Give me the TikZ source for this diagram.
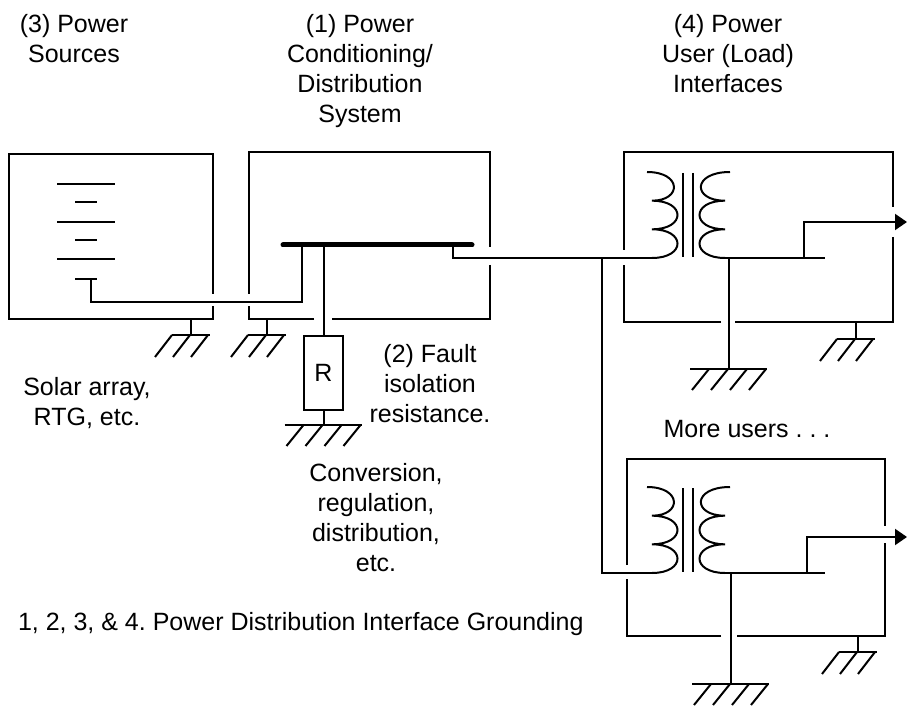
\documentclass[tikz,border=0pt]{standalone}
\usepackage{fontspec}
\setmainfont{Liberation Sans}
\usetikzlibrary{arrows.meta}
\frenchspacing
\begin{document}
\begin{tikzpicture}[x=1pt,y=-1pt,line width=2pt,
  bus/.style={line width=5pt,line cap=round},
  lbl/.style={align=center,inner sep=0pt,anchor=north,font=\fontsize{25}{30}\selectfont},
  resbox/.style={draw,line width=2pt,minimum width=39pt,minimum height=74pt,inner sep=0pt,font=\fontsize{25}{30}\selectfont},
  outarrow/.style={-{Triangle[length=12pt,width=16pt]}},
  gndthree/.pic={\draw (-19,0)--(19,0); \foreach \t in {-19,-1,17} \draw (\t,0)--(\t-17,22);},
  gndfour/.pic={\draw (-39,0)--(38,0); \foreach \t in {-20,-1,18,37} \draw (\t,0)--(\t-17,21);},
  xfmr/.pic={
    \draw (-5,-86) .. controls (30,-86) and (30,-57.3) .. (0,-57.3)
          .. controls (34,-57.3) and (34,-28.7) .. (0,-28.7)
          .. controls (34,-28.7) and (34,0) .. (0,0);
    \draw (31,-85)--(31,-1) (41,-85)--(41,-1);
    \draw (78,-86) .. controls (40,-86) and (40,-57.3) .. (73,-57.3)
          .. controls (39,-57.3) and (39,-28.7) .. (73,-28.7)
          .. controls (39,-28.7) and (39,0) .. (73,0);
  }]
\useasboundingbox (0,0) rectangle (908,708);

% ---------- (3) power source box ----------
\draw (213,294)--(213,154)--(9,154)--(9,319)--(213,319)--(213,306);
\foreach \y in {184,222,259} \draw (57,\y)--(115,\y);
\foreach \y in {202,240,279} \draw (75,\y)--(97,\y);
\draw (191,319)--(191,335);
\pic at (191,335) {gndthree};

% ---------- (1) conditioning / distribution box ----------
\draw (249,294)--(249,152)--(490,152)--(490,247);
\draw (490,265)--(490,319)--(332,319);
\draw (314,319)--(249,319)--(249,306);
\draw (267,319)--(267,335);
\pic at (267,335) {gndthree};
\coordinate (busL) at (283,245);
\coordinate (busR) at (472,245);
\draw[bus] (busL)--(busR);
\draw (91,279)--(91,302)--(302,302)--(302,245);

% fault isolation resistor
\node[resbox] (R) at (323.5,373) {R};
\draw (323.5,245)--(R.north);
\draw (R.south)--(323.5,425);
\pic at (323.5,425) {gndfour};

% feeder
\coordinate (x1) at (652,258);
\coordinate (x2) at (652,573);
\coordinate (jn) at (602,258);
\draw (453,245)--(453,258)--(jn)--(x1);
\draw (jn)--(602,573)--(x2);

% ---------- user 1 ----------
\draw (624,250)--(624,152)--(893,152)--(893,207);
\draw (893,237)--(893,322)--(735,322);
\draw (721,322)--(624,322)--(624,265);
\pic at (x1) {xfmr};
\draw (725,258)--(825,258);
\draw[outarrow] (804,258)--(804,222)--(907,222);
\draw (729,258)--(729,369);
\pic at (729,369) {gndfour};
\draw (856,322)--(856,339);
\pic at (856,339) {gndthree};

% ---------- user 2 ----------
\draw (627,565)--(627,459)--(885,459)--(885,526);
\draw (885,543)--(885,636)--(737,636);
\draw (721,636)--(627,636)--(627,579);
\pic at (x2) {xfmr};
\draw (725,573)--(825,573);
\draw[outarrow] (807,573)--(807,537)--(907,537);
\draw (731,573)--(731,684);
\pic at (731,684) {gndfour};
\draw (858,636)--(858,652);
\pic at (858,652) {gndthree};

% ---------- labels ----------
\node[lbl] (t3) at (74,13) {(3) Power\\Sources};
\node[lbl] (t1) at (360,13) {(1) Power\\Conditioning/\\Distribution\\System};
\node[lbl] (t4) at (728,13) {(4) Power\\User (Load)\\Interfaces};
\node[lbl] (t2) at (430,343) {(2) Fault\\isolation\\resistance.};
\node[lbl] (tsol) at (87,376) {Solar array,\\RTG, etc.};
\node[lbl] (tmore) at (747,419) {More users . . .};
\node[lbl] (tconv) at (376,462) {Conversion,\\regulation,\\distribution,\\etc.};
\node[lbl,anchor=north west] (tfoot) at (17,611) {1, 2, 3, \& 4. Power Distribution Interface Grounding};
\end{tikzpicture}
\end{document}
